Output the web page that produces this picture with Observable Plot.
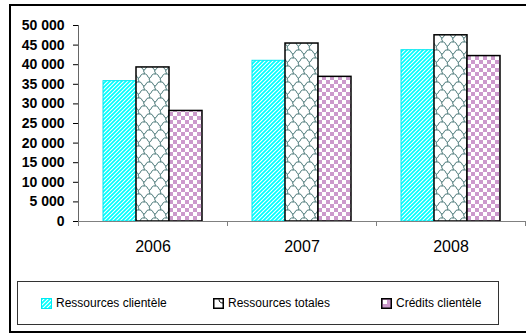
<!DOCTYPE html>
<html><head><meta charset="utf-8">
<script src="https://cdn.jsdelivr.net/npm/d3@7"></script>
<script src="https://cdn.jsdelivr.net/npm/@observablehq/plot@0.6"></script>
<style>
html,body{margin:0;padding:0;background:#fff;overflow:hidden;}
#wrap{position:relative;width:526px;height:333px;overflow:hidden;font-family:"Liberation Sans",Arial,sans-serif;}
#frame{position:absolute;left:9px;top:4px;width:600px;height:329px;border:2px solid #000;box-sizing:border-box;}
#chart{position:absolute;left:0;top:0;}
#legend{position:absolute;left:17px;top:281px;width:482px;height:44px;border:1px solid #333;box-sizing:border-box;background:#fff;}
.item{position:absolute;top:297px;height:12px;display:flex;align-items:center;font-size:12px;color:#000;white-space:nowrap;}
.item svg{margin-right:4px;flex:none;}
</style></head>
<body>
<svg width="0" height="0" style="position:absolute">
<defs>
<pattern id="pCyan" patternUnits="userSpaceOnUse" width="4" height="4">
<rect width="4" height="4" fill="#00ffff"/>
<path d="M-1,1 l2,-2 M0,4 l4,-4 M3,5 l2,-2" stroke="#ffffff" stroke-width="1.1"/>
</pattern>
<pattern id="pWave" patternUnits="userSpaceOnUse" width="11" height="16">
<rect width="11" height="16" fill="#ffffff"/>
<path d="M0,6 C2,6 2,2 4,2 L7,2 C9,2 9,6 11,6
         M-5.5,14 C-3.5,14 -3.5,10 -1.5,10 L1.5,10 C3.5,10 3.5,14 5.5,14 C7.5,14 7.5,10 9.5,10 L12.5,10 C14.5,10 14.5,14 16.5,14
         M0,6 C-1.5,7.5 1.5,8.5 0,10 M11,6 C9.5,7.5 12.5,8.5 11,10
         M5.5,14 C4,15.5 7,16.5 5.5,18 M5.5,-2 C4,-0.5 7,0.5 5.5,2"
      fill="none" stroke="#4a7878" stroke-width="1"/>
</pattern>
<pattern id="pCheck" patternUnits="userSpaceOnUse" width="8" height="8">
<rect width="8" height="8" fill="#ffffff"/>
<rect width="4" height="4" fill="#cc99cc"/>
<rect x="4" y="4" width="4" height="4" fill="#cc99cc"/>
</pattern>
</defs>
</svg>
<div id="wrap">
<div id="frame"></div>
<div id="chart"></div>
<div id="legend"></div>
</div>
<script>
const years = ["2006", "2007", "2008"];
const series = ["Ressources clientèle", "Ressources totales", "Crédits clientèle"];
const ressourcesClientele = [35800, 41000, 43700];
const ressourcesTotales = [39300, 45400, 47500];
const creditsClientele = [28200, 36900, 42200];
const yTicks = [0, 5000, 10000, 15000, 20000, 25000, 30000, 35000, 40000, 45000, 50000];

const values = [ressourcesClientele, ressourcesTotales, creditsClientele];
const styles = [
  {fill: "url(#pCyan)", stroke: "#00e8f0", strokeWidth: 1},
  {fill: "url(#pWave)", stroke: "#000", strokeWidth: 1.5},
  {fill: "url(#pCheck)", stroke: "#000", strokeWidth: 1.5}
];
const data = series.flatMap((s, i) => years.map((y, j) => ({year: y, series: s, value: values[i][j]})));
const fmt = d => d3.format(",")(d).replace(/,/g, " ");

const chart = Plot.plot({
  width: 526, height: 333,
  marginLeft: 77, marginRight: 0, marginTop: 25, marginBottom: 112,
  style: {fontFamily: "'Liberation Sans', Arial, sans-serif", background: "transparent", overflow: "visible"},
  fx: {domain: years, padding: 0, label: null},
  x: {domain: series, paddingInner: 0, paddingOuter: 0.75, axis: null},
  y: {domain: [0, 50000], label: null},
  marks: [
    ...series.map((s, i) => Plot.barY(data.filter(d => d.series === s), {fx: "year", x: "series", y: "value", ...styles[i]})),
    Plot.ruleY([0], {stroke: "#808080", strokeWidth: 1}),
    Plot.axisY({ticks: yTicks, tickFormat: fmt, tickSize: 5, tickPadding: 9, fontSize: 14, fontWeight: "bold", label: null, color: "#000"}),
    Plot.axisFx({anchor: "bottom", tickSize: 0, tickPadding: 19, fontSize: 16, label: null})
  ]
});
document.getElementById("chart").appendChild(chart);

// axis line and category boundary ticks
const svg = d3.select(chart);
const ys = chart.scale("y");
const fxs = chart.scale("fx");
const x0 = fxs.apply(years[0]);
svg.append("line").attr("x1", x0 + 0.5).attr("x2", x0 + 0.5)
  .attr("y1", ys.apply(50000)).attr("y2", ys.apply(0) + 4).attr("stroke", "#666");
const edges = years.map(y => fxs.apply(y)).concat([fxs.apply(years[years.length - 1]) + fxs.bandwidth]);
edges.forEach(e => svg.append("line").attr("x1", e + 0.5).attr("x2", e + 0.5)
  .attr("y1", ys.apply(0)).attr("y2", ys.apply(0) + 5).attr("stroke", "#808080"));

// legend
const wrap = document.getElementById("wrap");
const lefts = [41, 213, 381];
const swatch = [
  '<svg width="11" height="11"><rect x="0.5" y="0.5" width="10" height="10" fill="url(#pCyan)" stroke="#00e8f0"/></svg>',
  '<svg width="11" height="11"><rect x="0.75" y="0.75" width="9.5" height="9.5" fill="#fff" stroke="#000" stroke-width="1.5"/><path d="M6,1.5 C6,4 8,5 10,5" fill="none" stroke="#000"/></svg>',
  '<svg width="11" height="11"><rect x="0.75" y="0.75" width="9.5" height="9.5" fill="#cc99cc" stroke="#000" stroke-width="1.5"/><rect x="2" y="2" width="4" height="4" fill="#fff"/></svg>'
];
series.forEach((s, i) => {
  const div = document.createElement("div");
  div.className = "item";
  div.style.left = lefts[i] + "px";
  div.innerHTML = swatch[i] + "<span>" + s + "</span>";
  wrap.appendChild(div);
});
</script>
</body></html>
